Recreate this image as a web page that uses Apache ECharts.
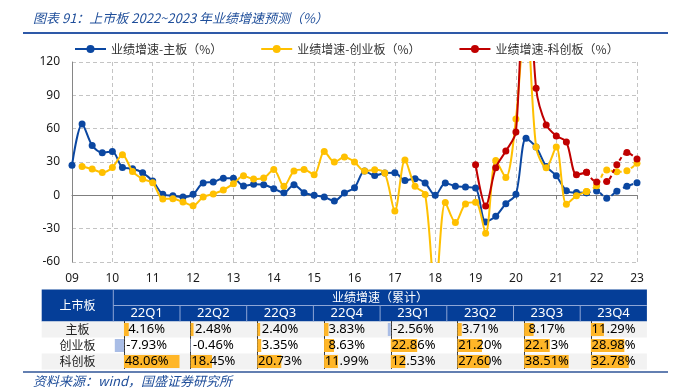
<!DOCTYPE html>
<html><head><meta charset="utf-8">
<script src="https://cdn.jsdelivr.net/npm/echarts@6/dist/echarts.min.js"></script>
<style>html,body{margin:0;padding:0;background:#fff}#c{width:679px;height:392px}</style>
</head><body><div id="c"></div>
<script>
// ---------- data ----------
const yearLabels = ['09','10','11','12','13','14','15','16','17','18','19','20','21','22','23'];
const seriesNames = ['业绩增速-主板（%）','业绩增速-创业板（%）','业绩增速-科创板（%）'];
const boardNames = ['主板','创业板','科创板'];
const tableQuarters = ['22Q1','22Q2','22Q3','22Q4','23Q1','23Q2','23Q3','23Q4'];
const tableTitle = '业绩增速（累计）';
const tableCorner = '上市板';
const titleText = '图表 91：上市板 2022~2023 年业绩增速预测（%）';
const sourceText = '资料来源：wind，国盛证券研究所';

// quarterly, 2009Q4 ... 2023Q4 (57 points)
const mainBoard = [27,64.3,44.9,38.3,39.5,25.1,23.9,20.3,12.9,0.9,-0.3,-1.5,0.9,11.1,12,15.3,
  15.3,8.4,9.9,9.6,6,2.4,9.6,2.4,0,-1.5,-5.1,2.1,6.9,21.8,17.9,20,
  20.3,13.4,15,11,0,11,8.2,7.5,6.6,-23.9,-18.8,-7.5,0.9,51.4,43.4,26,
  17.6,4.16,2.48,2.40,3.83,-2.56,3.71,8.17,11.29];
const gemBoard = [null,26,23.6,20.6,25.1,36.5,21.5,14.7,11.4,-3.3,-3,-6,-9.3,-1.5,1.2,4.8,
  10.5,17.6,14.7,15.6,23.3,8.1,21.8,23.3,18.5,39.5,29.9,34.4,29.9,21.8,23,20,
  -14,31.7,8.1,0.8,-90,-6.4,-24.5,-7.8,-6.3,-34.1,31.4,16.1,68.8,170,43.4,24.8,
  43.4,-7.93,-0.46,3.35,8.63,22.86,21.20,22.13,28.98];
const starBoard = [null,null,null,null,null,null,null,null,null,null,null,null,null,null,null,null,
  null,null,null,null,null,null,null,null,null,null,null,null,null,null,null,null,
  null,null,null,null,null,null,null,null,27.5,-9.6,24.8,39.8,57.1,240,96.3,63.4,
  53.5,48.06,18.45,20.73,11.99,12.53,27.60,38.51,32.78];
const forecastStart = 51;   // dashed from this point on
const tableStart = 49;      // 22Q1 index

// ---------- build ----------
const categories = ['2009Q4'];
for (let y = 2010; y <= 2023; y++) for (let q = 1; q <= 4; q++) categories.push(y + 'Q' + q);

const colors = ['#0B47A1', '#FFC000', '#C00000'];
const allData = [mainBoard, gemBoard, starBoard];

const series = [];
allData.forEach((d, k) => {
  const base = {
    name: seriesNames[k], type: 'line', smooth: 0.3, symbol: 'circle', symbolSize: 7,
    showSymbol: true, showAllSymbol: true, connectNulls: false, xAxisIndex: 0, yAxisIndex: 0,
    itemStyle: { color: colors[k] }, z: 3 + k, animation: false, clip: true
  };
  series.push(Object.assign({}, base, {
    data: d.map((v, i) => i <= forecastStart ? v : null),
    lineStyle: { color: colors[k], width: 2 }
  }));
  series.push(Object.assign({}, base, {
    data: d.map((v, i) => i >= forecastStart ? v : null),
    lineStyle: { color: colors[k], width: 2, type: [4, 3] }
  }));
});

// table layout
const tLeft = 41.7, firstW = 71.6, colW = 66.7, tTop = 289.5, rowH = 16;
const colLeft = c => tLeft + firstW + c * colW;
const tRight = colLeft(8);
const tableVals = boardNames.map((b, r) => allData[r].slice(tableStart, tableStart + 8));
const flat = [].concat(...tableVals);
const barMin = Math.min(...flat), barMax = Math.max(...flat);

const grids = [{ left: 72, top: 62, width: 565, height: 200, outerBoundsMode: 'none', containLabel: false }];
const xAxes = [
  { type: 'category', data: categories, boundaryGap: false, gridIndex: 0, position: 'bottom',
    axisLine: { show: false, onZero: false }, axisTick: { show: false },
    axisLabel: { interval: i => i % 4 === 0, formatter: (v, i) => yearLabels[Math.floor(categories.indexOf(v) / 4)],
      margin: 11, color: '#1a1a1a', fontFamily: 'Noto Sans', fontSize: 12 },
    splitLine: { show: true, interval: i => i % 4 === 0, lineStyle: { color: '#C4C4C4', type: [4, 3] } } },
  { type: 'category', data: categories, boundaryGap: false, gridIndex: 0, position: 'bottom',
    axisLine: { show: true, onZero: true, lineStyle: { color: '#7F7F7F', width: 1 } },
    axisTick: { show: true, interval: i => i % 4 === 0, length: 4, lineStyle: { color: '#7F7F7F' } },
    axisLabel: { show: false }, splitLine: { show: false } }
];
const yAxes = [
  { type: 'value', min: -60, max: 120, interval: 30, gridIndex: 0,
    axisLine: { show: true, lineStyle: { color: '#868686' } }, axisTick: { show: false },
    axisLabel: { margin: 12, color: '#1a1a1a', fontFamily: 'Noto Sans', fontSize: 12 },
    splitLine: { show: true, lineStyle: { color: '#C4C4C4', type: [4, 3] } } }
];

const graphics = [];
// title and rules
graphics.push({ type: 'text', x: 33, y: 18, z: 10, style: { text: titleText, fontSize: 13, fontStyle: 'italic',
  fontFamily: '"Noto Sans CJK SC"', fill: '#1F4E9A', align: 'left', verticalAlign: 'middle' } });
graphics.push({ type: 'line', z: 10, shape: { x1: 23, y1: 33, x2: 668, y2: 33 }, style: { stroke: '#2E59A8', lineWidth: 2 } });
// table backgrounds
graphics.push({ type: 'rect', z: 0, shape: { x: tLeft, y: tTop, width: tRight - tLeft, height: rowH * 2 }, style: { fill: '#053E98' } });
[0, 2].forEach(r => graphics.push({ type: 'rect', z: 0,
  shape: { x: tLeft, y: tTop + rowH * (2 + r), width: tRight - tLeft, height: rowH }, style: { fill: '#F2F2F2' } }));
graphics.push({ type: 'line', z: 1, shape: { x1: colLeft(0), y1: tTop, x2: colLeft(0), y2: tTop + 2 * rowH }, style: { stroke: '#8EA6D6', lineWidth: 1 } });
graphics.push({ type: 'line', z: 1, shape: { x1: colLeft(0), y1: tTop + rowH, x2: tRight, y2: tTop + rowH }, style: { stroke: '#8EA6D6', lineWidth: 1 } });
for (let c = 1; c < 8; c++) graphics.push({ type: 'line', z: 1,
  shape: { x1: colLeft(c), y1: tTop + rowH, x2: colLeft(c), y2: tTop + 2 * rowH }, style: { stroke: '#8EA6D6', lineWidth: 1 } });
graphics.push({ type: 'line', z: 10, shape: { x1: 23, y1: 372, x2: 668, y2: 372 }, style: { stroke: '#2F5597', lineWidth: 1.5 } });
// header texts
const cjk = '"Noto Sans CJK SC"';
graphics.push({ type: 'text', x: (tLeft + colLeft(0)) / 2, y: tTop + rowH, z: 10,
  style: { text: tableCorner, fontSize: 12, fontFamily: cjk, fill: '#fff', align: 'center', verticalAlign: 'middle' } });
graphics.push({ type: 'text', x: (colLeft(0) + tRight) / 2, y: tTop + rowH / 2, z: 10,
  style: { text: tableTitle, fontSize: 12, fontFamily: cjk, fill: '#fff', align: 'center', verticalAlign: 'middle' } });
tableQuarters.forEach((q, c) => graphics.push({ type: 'text', x: colLeft(c) + colW / 2, y: tTop + rowH * 1.5, z: 10,
  style: { text: q, fontSize: 13, fontFamily: 'Noto Sans', fill: '#fff', align: 'center', verticalAlign: 'middle' } }));
boardNames.forEach((b, r) => {
  const yc = tTop + rowH * (2.5 + r);
  graphics.push({ type: 'text', x: (tLeft + colLeft(0)) / 2, y: yc, z: 10,
    style: { text: b, fontSize: 12, fontFamily: cjk, fill: '#222', align: 'center', verticalAlign: 'middle' } });
  tableVals[r].forEach((v, c) => graphics.push({ type: 'text', x: colLeft(c) + colW / 2, y: yc, z: 10,
    style: { text: v.toFixed(2) + '%', fontSize: 13, fontFamily: 'Noto Sans', fill: '#000', align: 'center', verticalAlign: 'middle' } }));
});
graphics.push({ type: 'text', x: 33, y: 381, z: 10, style: { text: sourceText, fontSize: 13, fontStyle: 'italic',
  fontFamily: cjk, fill: '#1F4E9A', align: 'left', verticalAlign: 'middle' } });

// data-bar grids
for (let c = 0; c < 8; c++) {
  grids.push({ left: colLeft(c) + 1.5, top: tTop + rowH * 2, width: colW - 2, height: rowH * 3, outerBoundsMode: 'none', containLabel: false });
  xAxes.push({ type: 'value', gridIndex: c + 1, min: barMin, max: barMax, show: false, splitLine: { show: false } });
  yAxes.push({ type: 'category', gridIndex: c + 1, data: boardNames, inverse: true,
    axisLine: { show: true, onZero: true, lineStyle: { color: '#333', type: [2, 1], width: 1 } },
    axisTick: { show: false }, axisLabel: { show: false }, splitLine: { show: false } });
  series.push({ type: 'bar', xAxisIndex: c + 2, yAxisIndex: c + 1, barWidth: 13, z: 2, silent: true, animation: false,
    data: tableVals.map(row => row[c]),
    itemStyle: { color: p => p.value < 0 ? '#A9BDE6' : '#FFB628' } });
}

const chart = echarts.init(document.getElementById('c'), null, { renderer: 'canvas' });
chart.setOption({
  backgroundColor: '#ffffff',
  animation: false,
  legend: { data: seriesNames, left: 69, top: 38, itemWidth: 31, itemHeight: 10, itemGap: 38,
    textStyle: { fontSize: 12, fontFamily: cjk, color: '#333' } },
  grid: grids, xAxis: xAxes, yAxis: yAxes, series: series, graphic: graphics
});
</script></body></html>
